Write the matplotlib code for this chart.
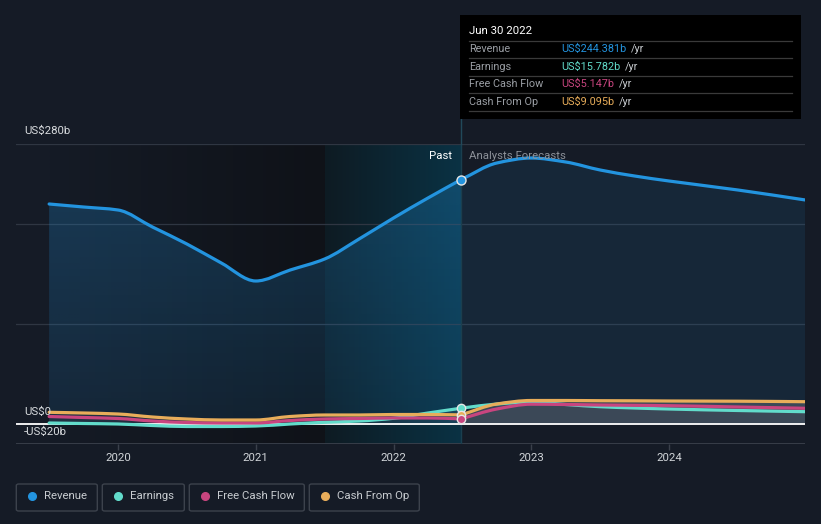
import matplotlib
matplotlib.use('Agg')
import matplotlib.pyplot as plt
import numpy as np
from matplotlib.patches import Rectangle, FancyBboxPatch, PathPatch
from matplotlib.lines import Line2D
from matplotlib.path import Path

plt.rcParams['font.family'] = ['Roboto', 'DejaVu Sans']

# ---------------- data ----------------
past_dates = [2019.5, 2019.75, 2020.0, 2020.25, 2020.5, 2020.75, 2021.0,
              2021.25, 2021.5, 2021.75, 2022.0, 2022.25, 2022.49]
revenue_past = [220, 217, 214, 197, 180, 161, 143, 154, 165, 185, 206, 226, 244.381]
earnings_past = [1.0, 0.5, 0.0, -1.5, -2.5, -2.5, -2.0, 0.0, 1.7, 3.0, 5.7, 11.0, 15.782]
fcf_past = [7.5, 6.5, 5.5, 3.0, 1.5, 1.0, 1.0, 3.5, 5.0, 5.5, 6.0, 6.0, 5.147]
cfo_past = [11.7, 11.0, 10.0, 7.0, 5.0, 4.0, 4.0, 7.5, 9.0, 9.0, 9.5, 9.5, 9.095]

fc_dates = [2022.49, 2022.75, 2023.0, 2023.25, 2023.5, 2023.75, 2024.0, 2024.5, 2024.99]
revenue_fc = [244.381, 261, 266, 262, 254, 248, 243, 234, 224]
earnings_fc = [15.782, 20.0, 22.0, 19.5, 17.3, 16.0, 15.0, 13.5, 12.3]
fcf_fc = [5.147, 15.0, 19.8, 19.5, 19.0, 18.7, 18.3, 17.0, 15.7]
cfo_fc = [9.095, 20.0, 23.5, 23.5, 23.3, 23.2, 23.0, 22.8, 22.3]

series_names = ['Revenue', 'Earnings', 'Free Cash Flow', 'Cash From Op']
series_colors = ['#2394df', '#62dccb', '#c8457f', '#e8ad5a']
tooltip_values = ['US$244.381b', 'US$15.782b', 'US$5.147b', 'US$9.095b']
tooltip_date = 'Jun 30 2022'
year_ticks = [2020, 2021, 2022, 2023, 2024]
ytick_vals = [280, 0, -20]
ytick_labels = ['US$280b', 'US$0', '-US$20b']
grid_vals = [280, 200, 100]

# ---------------- layout ----------------
W, H = 821, 524
BG = '#151b26'
X0, X1 = 2019.2595, 2024.987
YMIN, YMAX = -20, 280
past_start = 2019.5
hl_start = 2021.5
now = 2022.49


def fx(x):
    return x / W


def fy(y):
    return 1 - y / H


def monotone_path(xs, ys, close_to=None):
    """Monotone cubic (Fritsch-Carlson) curve through the given points as a Bezier path."""
    x = np.asarray(xs, float)
    y = np.asarray(ys, float)
    n = len(x)
    dx = np.diff(x)
    d = np.diff(y) / dx
    m = np.zeros(n)
    m[0], m[-1] = d[0], d[-1]
    for k in range(1, n - 1):
        if d[k - 1] * d[k] <= 0:
            m[k] = 0.0
        else:
            w1 = 2 * dx[k] + dx[k - 1]
            w2 = dx[k] + 2 * dx[k - 1]
            m[k] = (w1 + w2) / (w1 / d[k - 1] + w2 / d[k])
    verts = [(x[0], y[0])]
    codes = [Path.MOVETO]
    for k in range(n - 1):
        h = dx[k] / 3
        verts += [(x[k] + h, y[k] + m[k] * h), (x[k + 1] - h, y[k + 1] - m[k + 1] * h),
                  (x[k + 1], y[k + 1])]
        codes += [Path.CURVE4] * 3
    if close_to is not None:
        verts += [(x[-1], close_to), (x[0], close_to), (x[0], y[0])]
        codes += [Path.LINETO, Path.LINETO, Path.CLOSEPOLY]
    return Path(verts, codes)


fig = plt.figure(figsize=(W / 100, H / 100), dpi=100, facecolor=BG)
ax = fig.add_axes([16 / W, (H - 444) / H, (805 - 16) / W, 300 / H])
ax.set_facecolor('none')
for s in ax.spines.values():
    s.set_visible(False)


def hgrad(c0, c1, n=256):
    c0 = np.array(c0) / 255.0
    c1 = np.array(c1) / 255.0
    t = np.linspace(0, 1, n)[None, :, None]
    return c0[None, None, :] * (1 - t) + c1[None, None, :] * t


ax.imshow(hgrad((21, 27, 38), (15, 18, 24)), extent=[past_start, hl_start, YMIN, YMAX],
          aspect='auto', zorder=0, interpolation='bilinear')
ax.imshow(hgrad((14, 27, 35), (10, 50, 68)), extent=[hl_start, now, YMIN, YMAX],
          aspect='auto', zorder=0, interpolation='bilinear')

for g in grid_vals:
    ax.axhline(g, color='#2f3642', lw=0.9, zorder=1)
ax.axhline(-20, color='#3a404b', lw=1.3, zorder=1)

# revenue fill (past) with vertical gradient
past_fill = monotone_path(past_dates, revenue_past, close_to=0)
clip_patch = PathPatch(past_fill, facecolor='none', edgecolor='none', transform=ax.transData)
ax.add_patch(clip_patch)
grad = np.zeros((256, 1, 4))
grad[..., 0] = 35 / 255
grad[..., 1] = 148 / 255
grad[..., 2] = 223 / 255
grad[..., 3] = np.linspace(0.26, 0.11, 256)[:, None]
im = ax.imshow(grad, extent=[past_start, now, 0, max(revenue_past) + 2], aspect='auto',
               zorder=2, interpolation='bilinear')
im.set_clip_path(clip_patch)

# revenue fill (forecast)
ax.add_patch(PathPatch(monotone_path(fc_dates, revenue_fc, close_to=0), facecolor='#2394df',
                       alpha=0.10, edgecolor='none', zorder=2))

# small-series fills
ax.add_patch(PathPatch(monotone_path(fc_dates, cfo_fc, close_to=0), facecolor='#8a8f99',
                       alpha=0.32, edgecolor='none', zorder=2))
ax.add_patch(PathPatch(monotone_path(past_dates, np.maximum.reduce([cfo_past, fcf_past, earnings_past]),
                                     close_to=0), facecolor='#8a8f99', alpha=0.10,
                       edgecolor='none', zorder=2))

ax.axhline(0, color='#ffffff', lw=1.3, zorder=3)
ax.axvline(now, color='#1a3f4f', lw=1.0, zorder=2.5)

past_series = [revenue_past, earnings_past, fcf_past, cfo_past]
fc_series = [revenue_fc, earnings_fc, fcf_fc, cfo_fc]
for i in [1, 2, 3, 0]:
    for xs, ys in [(past_dates, past_series[i]), (fc_dates, fc_series[i])]:
        ax.add_patch(PathPatch(monotone_path(xs, ys), facecolor='none',
                               edgecolor=series_colors[i], lw=2.3, capstyle='round',
                               joinstyle='round', zorder=4 + i * 0.1))

for i in [1, 3, 2, 0]:
    ax.plot([now], [past_series[i][-1]], 'o', ms=6.5 if i == 0 else 6,
            mfc=series_colors[i], mec='#e6e6e6', mew=1.0, zorder=6, clip_on=False)

ax.set_xlim(X0, X1)
ax.set_ylim(YMIN, YMAX)
ax.set_xticks(year_ticks)
ax.set_xticklabels([str(y) for y in year_ticks])
ax.tick_params(axis='x', length=4, width=1, color='#3a404b', labelcolor='#d0d4d8',
               labelsize=8.2, pad=2.5)
ax.set_yticks([])

ylab_pos = {280: 131, 0: 412, -20: 432}
for v, lab in zip(ytick_vals, ytick_labels):
    fig.text(fx(24), fy(ylab_pos[v]), lab, color='#d8dbde', fontsize=8.2,
             ha='left', va='center', zorder=10)

fig.text(fx(452), fy(156), 'Past', color='#ffffff', fontsize=8.2, ha='right', va='center')
fig.text(fx(469), fy(156), 'Analysts Forecasts', color='#8c9199', fontsize=8.2,
         ha='left', va='center')

fig.add_artist(Line2D([fx(460.5), fx(460.5)], [fy(119), fy(144)], color='#21495a',
                      lw=1.0, zorder=3))

fig.add_artist(Rectangle((fx(460), fy(119)), 341 / W, 104 / H, facecolor='#000000',
                         edgecolor='none', zorder=20))
fig.text(fx(469), fy(31), tooltip_date, color='#ffffff', fontsize=8.2, ha='left',
         va='center', zorder=21)
for ysep in [41, 58.3, 76, 93.3, 111]:
    fig.add_artist(Line2D([fx(469), fx(792)], [fy(ysep), fy(ysep)], color='#3a3a3a',
                          lw=0.9, zorder=21))
row_y = [49.3, 66.7, 84.3, 101.7]
val_texts = []
for name, val, col, yy in zip(series_names, tooltip_values, series_colors, row_y):
    fig.text(fx(469), fy(yy), name, color='#9a9ea4', fontsize=7.8, ha='left',
             va='center', zorder=21)
    t = fig.text(fx(561.5), fy(yy), val, color=col, fontsize=7.8, ha='left',
                 va='center', zorder=21)
    val_texts.append((t, yy))

fig.canvas.draw()
renderer = fig.canvas.get_renderer()
for t, yy in val_texts:
    bb = t.get_window_extent(renderer)
    fig.text((bb.x1 + 4) / W, fy(yy), '/yr', color='#c8ccd0', fontsize=7.8, ha='left',
             va='center', zorder=21)

boxes = [(16.3, 97.3), (102.3, 184.3), (189.3, 304.3), (309.3, 419.3)]
for (x0, x1), name, col in zip(boxes, series_names, series_colors):
    fig.add_artist(FancyBboxPatch((fx(x0), fy(511)), (x1 - x0) / W, 27 / H,
                                  boxstyle='round,pad=0,rounding_size=0.003',
                                  facecolor='none', edgecolor='#3c424c', lw=1.0))
    fig.add_artist(Line2D([fx(x0 + 15.7)], [fy(496)], marker='o', ms=5.5,
                          mfc=col, mec=col, lw=0))
    fig.text(fx(x0 + 28), fy(496), name, color='#c8ccd0', fontsize=8.2, ha='left',
             va='center')

fig.savefig('out.png', dpi=100, facecolor=BG)
